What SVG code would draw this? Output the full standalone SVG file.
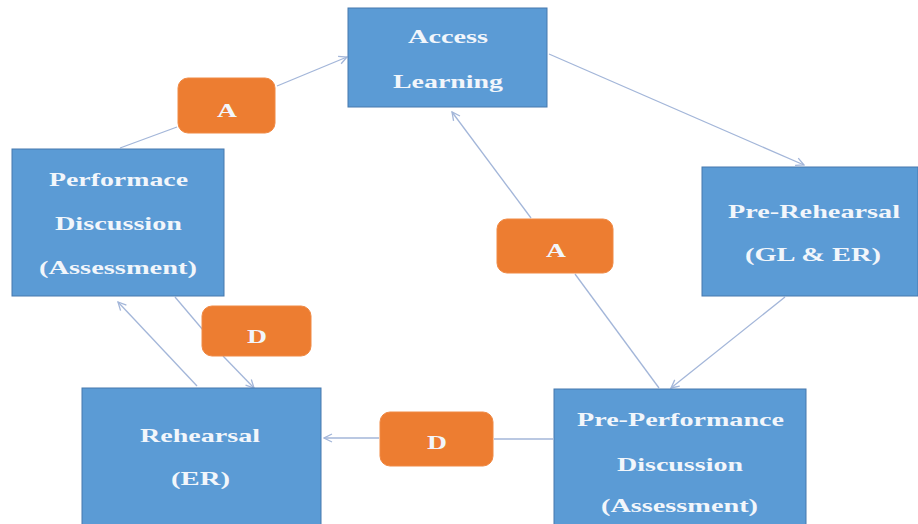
<svg xmlns="http://www.w3.org/2000/svg" width="918" height="524" viewBox="0 0 918 524">
<style>
.box{fill:#5b9bd5;stroke:#4679ad;stroke-width:1}
.tag{fill:#ed7d31;stroke:#f08a45;stroke-width:1}
.t{font-family:"Liberation Serif","Times New Roman",serif;font-weight:bold;font-size:19px;fill:#f2f6fb}
.c{fill:none;stroke:#a3b6d9;stroke-width:1.3}
</style>
<defs>
<marker id="ar" viewBox="0 0 10 10" refX="9" refY="5" markerWidth="10" markerHeight="10" markerUnits="userSpaceOnUse" orient="auto">
<path d="M1,1 L9,5 L1,9" fill="none" stroke="#a3b6d9" stroke-width="1.3"/>
</marker>
</defs>
<rect width="918" height="524" fill="#ffffff"/>
<g id="connectors">
<line class="c" x1="120" y1="148" x2="177" y2="127"/>
<line class="c" x1="277" y1="86" x2="347" y2="57" marker-end="url(#ar)"/>
<line class="c" x1="549" y1="54" x2="804" y2="165" marker-end="url(#ar)"/>
<line class="c" x1="785" y1="297" x2="671" y2="388" marker-end="url(#ar)"/>
<line class="c" x1="659" y1="388" x2="575" y2="274"/>
<line class="c" x1="531" y1="218" x2="452" y2="112" marker-end="url(#ar)"/>
<line class="c" x1="553" y1="439" x2="494" y2="439"/>
<line class="c" x1="379" y1="438" x2="324" y2="438" marker-end="url(#ar)"/>
<line class="c" x1="175" y1="297" x2="203" y2="330"/>
<line class="c" x1="223" y1="356" x2="254" y2="388" marker-end="url(#ar)"/>
<line class="c" x1="197" y1="386" x2="118" y2="302" marker-end="url(#ar)"/>
</g>
<g id="access-learning">
<rect class="box" x="348" y="8" width="199" height="99"/>
<text class="t" x="408" y="43" textLength="80" lengthAdjust="spacingAndGlyphs">Access</text>
<text class="t" x="393" y="88" textLength="110" lengthAdjust="spacingAndGlyphs">Learning</text>
</g>
<g id="performance-discussion">
<rect class="box" x="12" y="149" width="212" height="147"/>
<text class="t" x="49" y="186" textLength="139" lengthAdjust="spacingAndGlyphs">Performace</text>
<text class="t" x="55" y="230" textLength="127" lengthAdjust="spacingAndGlyphs">Discussion</text>
<text class="t" x="39" y="274" textLength="158" lengthAdjust="spacingAndGlyphs">(Assessment)</text>
</g>
<g id="pre-rehearsal">
<rect class="box" x="702" y="167" width="216" height="129"/>
<text class="t" x="728" y="218" textLength="172" lengthAdjust="spacingAndGlyphs">Pre-Rehearsal</text>
<text class="t" x="745" y="261" textLength="136" lengthAdjust="spacingAndGlyphs">(GL &amp; ER)</text>
</g>
<g id="rehearsal">
<rect class="box" x="82" y="388" width="239" height="140"/>
<text class="t" x="140" y="442" textLength="120" lengthAdjust="spacingAndGlyphs">Rehearsal</text>
<text class="t" x="171" y="485" textLength="59" lengthAdjust="spacingAndGlyphs">(ER)</text>
</g>
<g id="pre-performance-discussion">
<rect class="box" x="554" y="389" width="252" height="140"/>
<text class="t" x="577" y="426" textLength="207" lengthAdjust="spacingAndGlyphs">Pre-Performance</text>
<text class="t" x="617" y="471" textLength="126" lengthAdjust="spacingAndGlyphs">Discussion</text>
<text class="t" x="601" y="512" textLength="157" lengthAdjust="spacingAndGlyphs">(Assessment)</text>
</g>
<g id="tag-a-top">
<rect class="tag" x="178" y="78" width="97" height="55" rx="10"/>
<text class="t" x="217" y="117" textLength="20" lengthAdjust="spacingAndGlyphs">A</text>
</g>
<g id="tag-a-middle">
<rect class="tag" x="497" y="219" width="116" height="54" rx="10"/>
<text class="t" x="546" y="257" textLength="20" lengthAdjust="spacingAndGlyphs">A</text>
</g>
<g id="tag-d-upper">
<rect class="tag" x="202" y="306" width="109" height="50" rx="10"/>
<text class="t" x="247" y="343" textLength="20" lengthAdjust="spacingAndGlyphs">D</text>
</g>
<g id="tag-d-lower">
<rect class="tag" x="380" y="412" width="113" height="54" rx="10"/>
<text class="t" x="427" y="449" textLength="20" lengthAdjust="spacingAndGlyphs">D</text>
</g>
</svg>
